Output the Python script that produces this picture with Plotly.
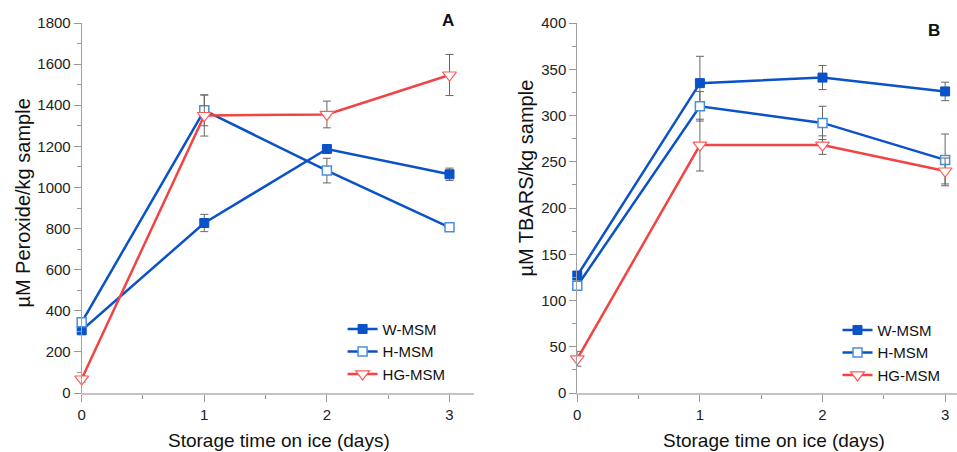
import plotly.graph_objects as go

days = [0, 1, 2, 3]

# Panel A: peroxide (µM/kg sample)
w_msm_perox = [305, 827, 1187, 1064]
w_msm_perox_err = [20, 42, 15, 30]
h_msm_perox = [344, 1375, 1082, 806]
h_msm_perox_err = [15, 75, 60, 10]
hg_msm_perox = [68, 1350, 1355, 1547]
hg_msm_perox_err = [15, 100, 65, 100]

# Panel B: TBARS (µM/kg sample)
w_msm_tbars = [127, 335, 341, 326]
w_msm_tbars_err = [3, 29, 13, 10]
h_msm_tbars = [116, 310, 292, 252]
h_msm_tbars_err = [5, 16, 18, 28]
hg_msm_tbars = [37, 268, 268, 240]
hg_msm_tbars_err = [8, 28, 10, 14]

series_names = ["W-MSM", "H-MSM", "HG-MSM"]
x_ticks = [0, 1, 2, 3]

W = 957
H = 452
FONT = "Liberation Sans, Arial, sans-serif"
BLUE = "#0a52c8"
RED = "#f24444"
ERR = "#666666"

top_px = 23.3
bot_px = 393.3
plot_h = bot_px - top_px


def px_x(p):
    return p / W


def px_y(p):
    return (bot_px - p) / plot_h


styles = [
    dict(line=dict(color=BLUE, width=2.5),
         marker=dict(symbol="square", size=9, color=BLUE, line=dict(color=BLUE, width=1))),
    dict(line=dict(color=BLUE, width=2.5),
         marker=dict(symbol="square", size=9, color="white", line=dict(color="#4a8ee0", width=1.5))),
    dict(line=dict(color=RED, width=2.5),
         marker=dict(symbol="triangle-down", size=12, color="white", line=dict(color="#ff5a5a", width=1.2))),
]

fig = go.Figure()

panelA = [(w_msm_perox, w_msm_perox_err), (h_msm_perox, h_msm_perox_err), (hg_msm_perox, hg_msm_perox_err)]
panelB = [(w_msm_tbars, w_msm_tbars_err), (h_msm_tbars, h_msm_tbars_err), (hg_msm_tbars, hg_msm_tbars_err)]

for name, (vals, err), st in zip(series_names, panelA, styles):
    fig.add_trace(go.Scatter(
        x=days, y=vals, name=name, mode="lines+markers",
        error_y=dict(type="data", array=err, visible=True, color=ERR, thickness=1, width=4),
        line=st["line"], marker=st["marker"], cliponaxis=False,
        xaxis="x", yaxis="y", legend="legend"))

for name, (vals, err), st in zip(series_names, panelB, styles):
    fig.add_trace(go.Scatter(
        x=days, y=vals, name=name, mode="lines+markers",
        error_y=dict(type="data", array=err, visible=True, color=ERR, thickness=1, width=4),
        line=st["line"], marker=st["marker"], cliponaxis=False,
        xaxis="x2", yaxis="y2", legend="legend2"))

axis_common = dict(
    showline=True, showgrid=False, zeroline=False,
    ticks="outside", ticklen=7, tickcolor="#999999", tickwidth=1,
    tickfont=dict(family=FONT, size=15, color="#222222"),
)

xA0, xA1 = 78.0, 472.0
xB0 = 575.7
unit = (xA1 - xA0) / 3.2

fig.update_layout(
    width=W, height=H, autosize=False,
    margin=dict(l=0, r=0, t=top_px, b=H - bot_px, pad=0),
    paper_bgcolor="white", plot_bgcolor="white",
    font=dict(family=FONT, color="#111111"),
    xaxis=dict(domain=[px_x(xA0), px_x(xA1)], range=[0, 3.2], tickvals=x_ticks,
               linecolor="#c4c4c4", linewidth=2,
               minor=dict(dtick=0.5, ticks="outside", ticklen=4, tickcolor="#999999"),
               anchor="y", **axis_common),
    yaxis=dict(domain=[0, 1], range=[0, 1800], dtick=200,
               linecolor="#a0a0a0", linewidth=1,
               minor=dict(dtick=100, ticks="outside", ticklen=4, tickcolor="#999999"),
               anchor="x", **axis_common),
    xaxis2=dict(domain=[px_x(xB0), 1], range=[0, (W - xB0) / unit], tickvals=x_ticks,
                linecolor="#c4c4c4", linewidth=2,
                minor=dict(dtick=0.5, ticks="outside", ticklen=4, tickcolor="#999999"),
                anchor="y2", **axis_common),
    yaxis2=dict(domain=[0, 1], range=[0, 400], dtick=50,
                linecolor="#a0a0a0", linewidth=1,
                minor=dict(dtick=25, ticks="outside", ticklen=4, tickcolor="#999999"),
                anchor="x2", **axis_common),
    legend=dict(x=px_x(340), y=px_y(313), xanchor="left", yanchor="top",
                bgcolor="rgba(0,0,0,0)", borderwidth=0, tracegroupgap=0,
                font=dict(family=FONT, size=15, color="#111111")),
    legend2=dict(x=px_x(837), y=px_y(314), xanchor="left", yanchor="top",
                 bgcolor="rgba(0,0,0,0)", borderwidth=0, tracegroupgap=0,
                 font=dict(family=FONT, size=15, color="#111111")),
    showlegend=True,
)

annots = [
    dict(text="Storage time on ice (days)", x=px_x(276), y=px_y(441), font=dict(size=19)),
    dict(text="Storage time on ice (days)", x=px_x(773), y=px_y(441), font=dict(size=19)),
    dict(text="µM Peroxide/kg sample", x=px_x(19), y=px_y(203), textangle=-90, font=dict(size=20)),
    dict(text="µM TBARS/kg sample", x=px_x(524), y=px_y(178), textangle=-90, font=dict(size=20)),
    dict(text="<b>A</b>", x=px_x(445.7), y=px_y(20.7), font=dict(size=17)),
    dict(text="<b>B</b>", x=px_x(934), y=px_y(30.8), font=dict(size=17)),
]
for a in annots:
    fig.add_annotation(xref="paper", yref="paper", showarrow=False,
                       xanchor="center", yanchor="middle",
                       x=a["x"], y=a["y"], text=a["text"], textangle=a.get("textangle", 0),
                       font=dict(family=FONT, color="#111111", size=a["font"]["size"]))

fig.write_html("out.html", config={"displayModeBar": False},
               post_script="document.body.style.margin='0';document.body.style.overflow='hidden';")
